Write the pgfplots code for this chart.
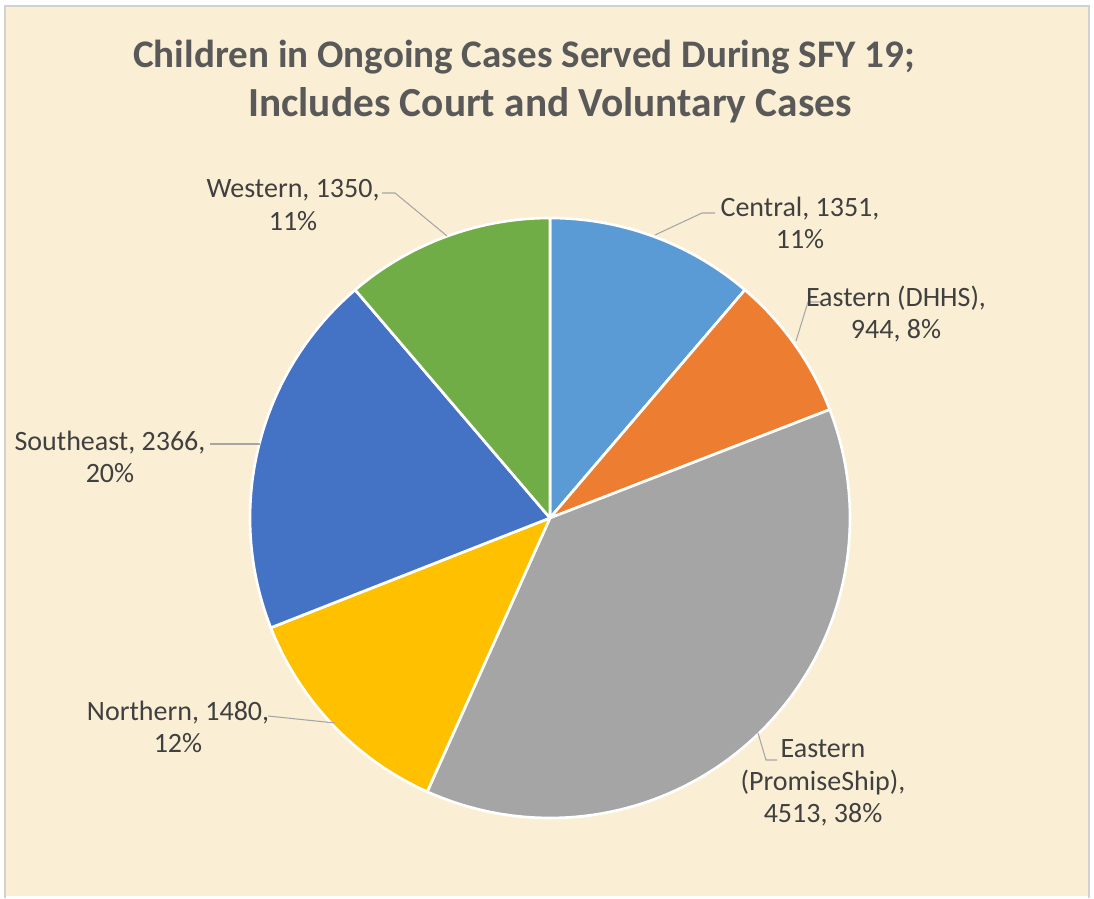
\documentclass[border=0pt]{standalone}
\usepackage{pgfplots}
\pgfplotsset{compat=1.18}
\usepackage{pgfplotstable}
\usepackage{fontspec}
\setmainfont{Carlito}

\definecolor{cCentral}{HTML}{5B9BD5}
\definecolor{cDHHS}{HTML}{ED7D31}
\definecolor{cPromise}{HTML}{A5A5A5}
\definecolor{cNorthern}{HTML}{FFC000}
\definecolor{cSoutheast}{HTML}{4472C4}
\definecolor{cWestern}{HTML}{70AD47}
\definecolor{parch}{RGB}{250,239,212}
\definecolor{titlegray}{HTML}{595959}
\definecolor{labelgray}{HTML}{404040}
\definecolor{leader}{HTML}{A6A6A6}

\pgfplotstableread[col sep=comma]{
region,value
Central,1351
Eastern (DHHS),944
Eastern (PromiseShip),4513
Northern,1480
Southeast,2366
Western,1350
}\piedata

% total and cumulative angles (clockwise from 12 o'clock)
\gdef\pietotal{0}
\pgfplotstableforeachcolumnelement{value}\of\piedata\as\cell{%
  \pgfmathsetmacro\tmp{\pietotal+\cell}\xdef\pietotal{\tmp}}
\gdef\piecur{90}
\pgfplotstableforeachcolumnelement{value}\of\piedata\as\cell{%
  \pgfmathsetmacro\tmp{\piecur-\cell/\pietotal*360}%
  \expandafter\xdef\csname pieS\pgfplotstablerow\endcsname{\piecur}%
  \expandafter\xdef\csname pieE\pgfplotstablerow\endcsname{\tmp}%
  \xdef\piecur{\tmp}}

\newcommand\pieslice[2]{%
  \edef\tmpS{\csname pieS#1\endcsname}%
  \edef\tmpE{\csname pieE#1\endcsname}%
  \edef\doit{\noexpand\addplot[fill=#2, draw=white, line width=2pt, line join=round,
     domain=\tmpE:\tmpS, samples=150, mark=none]
     ({550+300*cos(x)},{378+300*sin(x)}) -- (axis cs:550,378) -- cycle;}%
  \doit}

\begin{document}
\begin{tikzpicture}
\begin{axis}[
  x=0.75pt, y=0.75pt,
  xmin=0, xmax=1094, ymin=0, ymax=896,
  hide axis, clip=false,
  trig format plots=deg,
]
\fill[white] (axis cs:0,0) rectangle (axis cs:1094,896);
\fill[parch] (axis cs:5,0) rectangle (axis cs:1089,890);
\draw[black!18, line width=1pt] (axis cs:5,-2) -- (axis cs:5,890) -- (axis cs:1089,890) -- (axis cs:1089,-2);

\pieslice{0}{cCentral}
\pieslice{1}{cDHHS}
\pieslice{2}{cPromise}
\pieslice{3}{cNorthern}
\pieslice{4}{cSoutheast}
\pieslice{5}{cWestern}

% title
\node[font=\fontsize{29.3}{37}\selectfont\bfseries, text=titlegray, anchor=base, inner sep=0pt]
  at (axis cs:524,828) {Children in Ongoing Cases Served During SFY 19;};
\node[font=\fontsize{31}{37}\selectfont\bfseries, text=titlegray, anchor=base, inner sep=0pt]
  at (axis cs:550,779) {Includes Court and Voluntary Cases};

% leader lines
\begin{scope}[leader, line width=0.8pt]
\draw (axis cs:447,660) -- (axis cs:395,703) -- (axis cs:382,703);
\draw (axis cs:655,661) -- (axis cs:702,683) -- (axis cs:715,683);
\draw (axis cs:796,555) -- (axis cs:808,594) -- (axis cs:820,594);
\draw (axis cs:260,452) -- (axis cs:210,452);
\draw (axis cs:335,173) -- (axis cs:268,180);
\draw (axis cs:758,163) -- (axis cs:766,136) -- (axis cs:777,136);
\end{scope}

% data labels
\begin{scope}[every node/.style={font=\fontsize{21}{24.3}\selectfont, text=labelgray, align=center, inner sep=0pt}]
\node[anchor=center] at (axis cs:293,691) {Western, 1350,\\11\%};
\node[anchor=center] at (axis cs:800,673) {Central, 1351,\\11\%};
\node[anchor=center] at (axis cs:896,582) {Eastern (DHHS),\\944, 8\%};
\node[anchor=center] at (axis cs:110,439) {Southeast, 2366,\\20\%};
\node[anchor=center] at (axis cs:178,169) {Northern, 1480,\\12\%};
\node[anchor=center] at (axis cs:823,113) {Eastern\\(PromiseShip),\\4513, 38\%};
\end{scope}
\end{axis}
\end{tikzpicture}
\end{document}
